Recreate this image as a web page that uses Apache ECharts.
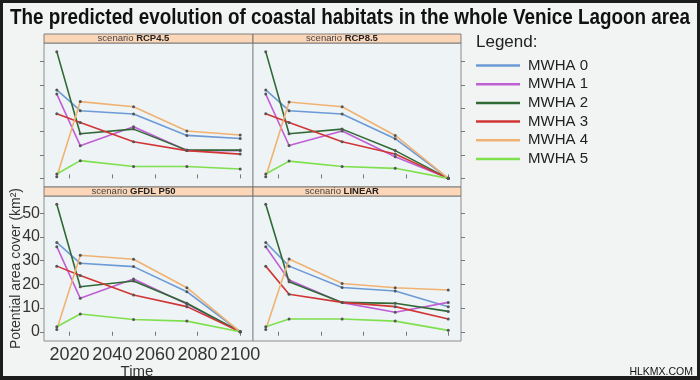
<!DOCTYPE html>
<html>
<head>
<meta charset="utf-8">
<script src="https://cdn.jsdelivr.net/npm/echarts@6/dist/echarts.min.js"></script>
<style>
html,body{margin:0;padding:0;background:#f2f4f3;}
#chart{width:700px;height:380px;}
</style>
</head>
<body>
<div id="chart"></div>
<script>
const years = [2014, 2025, 2050, 2075, 2100];
const habitats = ['MWHA 0', 'MWHA 1', 'MWHA 2', 'MWHA 3', 'MWHA 4', 'MWHA 5'];
const scenarios = ['RCP4.5', 'RCP8.5', 'GFDL P50', 'LINEAR'];
const xTicks = [2020, 2040, 2060, 2080, 2100];
const yTicks = [0, 10, 20, 30, 40, 50];
const colors = ['#6b9ad6', '#c05ed6', '#2f6a35', '#d03636', '#f0b272', '#7ee04c'];

const rcp45 = [
  [37.9, 29.0, 27.6, 18.4, 17.1],
  [36.1, 14.0, 22.1, 11.9, 11.9],
  [54.3, 19.1, 21.1, 12.1, 12.1],
  [27.7, 23.9, 15.7, 11.9, 10.4],
  [0.7, 32.9, 30.7, 20.3, 18.6],
  [1.9, 7.6, 5.1, 5.1, 4.0]
];
const rcp85 = [
  [37.9, 29.0, 27.6, 17.0, 0],
  [36.1, 14.1, 20.3, 9.3, 0],
  [54.3, 19.1, 21.1, 11.9, 0],
  [27.7, 23.9, 15.7, 10.4, 0],
  [0.7, 32.7, 30.7, 18.4, 0],
  [1.9, 7.4, 5.1, 4.3, 0]
];
const gfdl = [
  [37.7, 28.9, 27.5, 16.9, 0],
  [35.9, 14.1, 22.3, 11.7, 0],
  [53.8, 19.0, 21.4, 12.0, 0],
  [27.7, 23.7, 15.5, 10.6, 0],
  [1.0, 32.3, 30.6, 18.6, 0],
  [2.1, 7.5, 5.2, 4.5, 0]
];
const linear = [
  [37.7, 27.7, 18.7, 17.2, 10.6],
  [35.9, 21.8, 12.3, 8.2, 12.4],
  [53.8, 21.1, 12.4, 12.0, 8.6],
  [27.7, 15.8, 12.4, 10.6, 5.4],
  [1.0, 30.7, 20.4, 18.6, 17.6],
  [2.1, 5.4, 5.4, 4.5, 0.6]
];
const scenarioValues = [rcp45, rcp85, gfdl, linear];

const FONT = "'Liberation Sans', Arial, sans-serif";
const grids = [
  {left: 44, top: 43, width: 209, height: 144},
  {left: 253, top: 43, width: 208, height: 144},
  {left: 44, top: 196, width: 209, height: 145},
  {left: 253, top: 196, width: 208, height: 145}
].map(g => Object.assign(g, {show: true, backgroundColor: '#eef3f5', borderColor: '#8c8c8c', borderWidth: 1, containLabel: false}));

const tickStyle = {show: true, length: 4, lineStyle: {color: '#777', width: 1}};

const xAxes = [0, 1, 2, 3].map(i => ({
  type: 'value', gridIndex: i, min: 2008, max: 2106,
  position: i < 2 ? 'top' : 'bottom',
  offset: i < 2 ? 9 : 0,
  axisLine: {show: false},
  splitLine: {show: false},
  axisTick: Object.assign({customValues: xTicks}, tickStyle),
  axisLabel: {show: i === 2, customValues: xTicks, fontSize: 18, color: '#333', fontFamily: FONT, margin: 5,
    showMinLabel: true, showMaxLabel: true, formatter: v => String(v)}
}));

const yAxes = [0, 1, 2, 3].map(i => ({
  type: 'value', gridIndex: i,
  min: i < 2 ? -3.7 : -3.9, max: i < 2 ? 58 : 57.3,
  position: (i % 2 === 0) ? 'left' : 'right',
  axisLine: {show: false},
  splitLine: {show: false},
  axisTick: Object.assign({customValues: yTicks}, tickStyle),
  axisLabel: {show: i === 2, customValues: yTicks, fontSize: 16, color: '#333', fontFamily: FONT, margin: 4,
    showMinLabel: true, showMaxLabel: true},
  name: i === 2 ? 'Potential area cover (km²)' : '',
  nameLocation: 'middle', nameGap: 21, nameMoveOverlap: false,
  nameTextStyle: {fontSize: 14, color: '#333', fontFamily: FONT}
}));

const series = [];
scenarioValues.forEach((vals, s) => {
  vals.forEach((row, h) => {
    series.push({
      type: 'line', name: habitats[h], xAxisIndex: s, yAxisIndex: s,
      data: years.map((y, k) => [y, row[k]]),
      symbol: 'circle', symbolSize: 3, showSymbol: true,
      itemStyle: {color: '#555'},
      lineStyle: {color: colors[h], width: 1.6},
      emphasis: {disabled: true},
      z: 2
    });
  });
});

const titleText = 'The predicted evolution of coastal habitats in the whole Venice Lagoon area';
const titleFont = "bold 22px 'Liberation Sans', Arial, sans-serif";
const mctx = document.createElement('canvas').getContext('2d');
mctx.font = titleFont;
const titleScale = 680 / mctx.measureText(titleText).width;

const stripRects = [
  [44, 34, 209], [253, 34, 208], [44, 187, 209], [253, 187, 208]
];
const graphics = [];
stripRects.forEach((r, i) => {
  graphics.push({type: 'rect', shape: {x: r[0], y: r[1], width: r[2], height: 9},
    style: {fill: '#fbd6b8', stroke: '#666', lineWidth: 0.8}, z: 5});
  graphics.push({type: 'text', x: r[0] + r[2] / 2 - 15, y: r[1] + 4.8,
    style: {text: '{a|scenario }{b|' + scenarios[i] + '}',
      rich: {a: {fontSize: 9.5, fill: '#444', fontFamily: FONT}, b: {fontSize: 9.5, fontWeight: 'bold', fill: '#222', fontFamily: FONT}},
      textAlign: 'center', textVerticalAlign: 'middle'}, z: 6});
});
graphics.push({type: 'text', x: 350, y: 18, scaleX: titleScale,
  style: {text: titleText, font: titleFont,
    fill: '#111', textAlign: 'center', textVerticalAlign: 'middle'}, z: 6});
graphics.push({type: 'text', x: 476, y: 42,
  style: {text: 'Legend:', font: "17px 'Liberation Sans', Arial, sans-serif", fill: '#222', textAlign: 'left', textVerticalAlign: 'middle'}, z: 6});
graphics.push({type: 'text', x: 137, y: 372,
  style: {text: 'Time', font: "15px 'Liberation Sans', Arial, sans-serif", fill: '#333', textAlign: 'center', textVerticalAlign: 'middle'}, z: 6});
graphics.push({type: 'text', x: 693, y: 372,
  style: {text: 'HLKMX.COM', font: "10.5px 'Liberation Sans', Arial, sans-serif", fill: '#111', textAlign: 'right', textVerticalAlign: 'middle'}, z: 6});
graphics.push({type: 'rect', shape: {x: 1.5, y: 1.5, width: 697, height: 376},
  style: {fill: 'none', stroke: '#1c1c1c', lineWidth: 3}, z: 10});
graphics.push({type: 'rect', shape: {x: 0, y: 376, width: 700, height: 4},
  style: {fill: '#1c1c1c'}, z: 10});

const chart = echarts.init(document.getElementById('chart'), null, {renderer: 'canvas'});
chart.setOption({
  animation: false,
  backgroundColor: '#f2f4f3',
  textStyle: {fontFamily: FONT},
  grid: grids,
  xAxis: xAxes,
  yAxis: yAxes,
  legend: {
    orient: 'vertical', left: 476, top: 58, padding: 0,
    icon: 'rect', itemWidth: 44, itemHeight: 2.5, itemGap: 3.7,
    selectedMode: false,
    textStyle: {fontSize: 15, color: '#222', fontFamily: FONT, padding: [0, 0, 0, 3]},
    data: habitats.map((h, i) => ({name: h, itemStyle: {color: colors[i], borderWidth: 0}}))
  },
  graphic: graphics,
  series: series
});
</script>
</body>
</html>
